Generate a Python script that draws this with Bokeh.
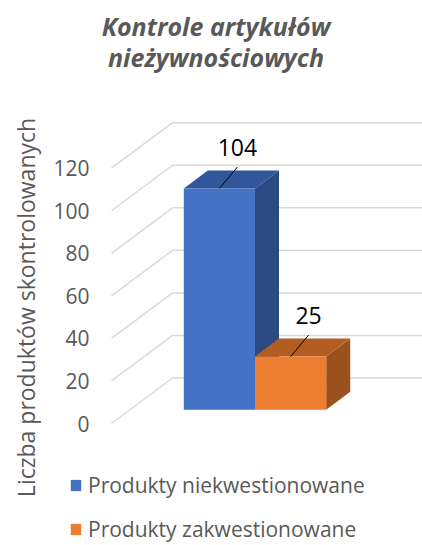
import math
from bokeh.plotting import figure
from bokeh.models import Range1d, ColumnDataSource, Legend, LegendItem
from bokeh.core.properties import value
from bokeh.embed import file_html
from bokeh.resources import INLINE

# ---- data ----
categories = ["Produkty niekwestionowane", "Produkty zakwestionowane"]
counts = [104, 25]
ticks = [0, 20, 40, 60, 80, 100, 120]
tick_labels = ["0", "20", "40", "60", "80", "100", "120"]
title_lines = ["Kontrole artykułów", "nieżywnościowych"]
y_title = "Liczba produktów skontrolowanych"

front_colors = ["#4472C4", "#ED7D31"]
top_colors = ["#31569C", "#B35D22"]
side_colors = ["#2B4A82", "#9B511D"]

# ---- layout constants (pixels) ----
W, H = 422, 545
PX = 42.55 / 20.0          # pixels per value unit
ORIGIN_Y = 423             # canvas y of value 0 at the front edge of the floor


def X(page_x):
    return page_x


def Y(page_y):
    return (ORIGIN_Y - page_y) / PX


FONT = "Open Sans"
GREY = "#595959"

p = figure(width=W, height=H, output_backend="svg", toolbar_location=None,
           x_range=Range1d(0, W), y_range=Range1d(-(H - ORIGIN_Y) / PX, ORIGIN_Y / PX),
           min_border=0, x_axis_type=None, y_axis_type=None)
p.outline_line_color = None
p.background_fill_color = "white"

# ---- 3D gridlines (floor diagonal + back wall) ----
FRONT_X = X(111)
FLOOR_DX = 61
FLOOR_DY = 45.5 / PX
GRID_RIGHT = W
gx = [[FRONT_X, FRONT_X + FLOOR_DX, GRID_RIGHT] for t in ticks]
gy = [[t, t + FLOOR_DY, t + FLOOR_DY] for t in ticks]
p.multi_line(gx, gy, line_color="#D9D9D9", line_width=1.5)

# ---- bars ----
n = len(counts)
BAR_LEFT0 = X(183.3)
BAR_W = 71.2
BAR_Z = 13.7 / PX
D_DX = 24
D_DY = 18 / PX
lefts = [BAR_LEFT0 + i * BAR_W for i in range(n)]
rights = [l + BAR_W for l in lefts]
bottoms = [BAR_Z] * n
tops = [BAR_Z + c for c in counts]

side_xs = [[r, r + D_DX, r + D_DX, r] for r in rights]
side_ys = [[b, b + D_DY, t + D_DY, t] for b, t in zip(bottoms, tops)]
top_xs = [[l, r, r + D_DX, l + D_DX] for l, r in zip(lefts, rights)]
top_ys = [[t, t, t + D_DY, t + D_DY] for t in tops]

p.patches(side_xs, side_ys, fill_color=side_colors, line_color=None)
p.patches(top_xs, top_ys, fill_color=top_colors, line_color=None)
src = ColumnDataSource(dict(left=lefts, right=rights, bottom=bottoms, top=tops,
                            color=front_colors, label=categories))
front = p.quad(left="left", right="right", bottom="bottom", top="top",
               fill_color="color", line_color=None, source=src)

# ---- data labels with leader lines ----
LDX = 18
LDY = 21.5 / PX
TXT = 19.5 / PX
cxs = [(l + r) / 2 for l, r in zip(lefts, rights)]
p.segment(x0=cxs, y0=tops, x1=[c + LDX for c in cxs], y1=[t + LDY for t in tops],
          line_color="black", line_width=1)
p.text(x=[c + LDX for c in cxs], y=[t + LDY + TXT for t in tops], text=[str(c) for c in counts],
       text_align="center", text_baseline="middle", text_font=value(FONT),
       text_font_size="23px", text_color="black")

# ---- tick labels ----
p.text(x=[X(89)] * len(ticks), y=ticks, text=tick_labels, text_align="right",
       text_baseline="middle", text_font=value(FONT), text_font_size="21px", text_color=GREY)

# ---- axis title ----
p.text(x=[X(25)], y=[Y(307)], text=[y_title], angle=math.pi / 2, text_align="center",
       text_baseline="middle", text_font=value(FONT), text_font_size="23px", text_color=GREY)

# ---- chart title ----
p.text(x=[X(215.5)] * 2, y=[Y(25.7), Y(56.7)], text=title_lines, text_align="center",
       text_baseline="alphabetic", text_font=value(FONT), text_font_style="bold italic",
       text_font_size="25px", text_color=GREY)

# ---- legend ----
legend = Legend(items=[LegendItem(label=categories[i], renderers=[front], index=i) for i in range(n)],
                location=(X(69), 2), orientation="vertical", padding=0, margin=0,
                border_line_color=None, background_fill_alpha=0,
                glyph_width=13, glyph_height=14, label_standoff=6, spacing=16,
                label_text_font=FONT, label_text_font_size="21px", label_text_color=GREY)
p.add_layout(legend)

open("out.html", "w").write(file_html(p, INLINE))
